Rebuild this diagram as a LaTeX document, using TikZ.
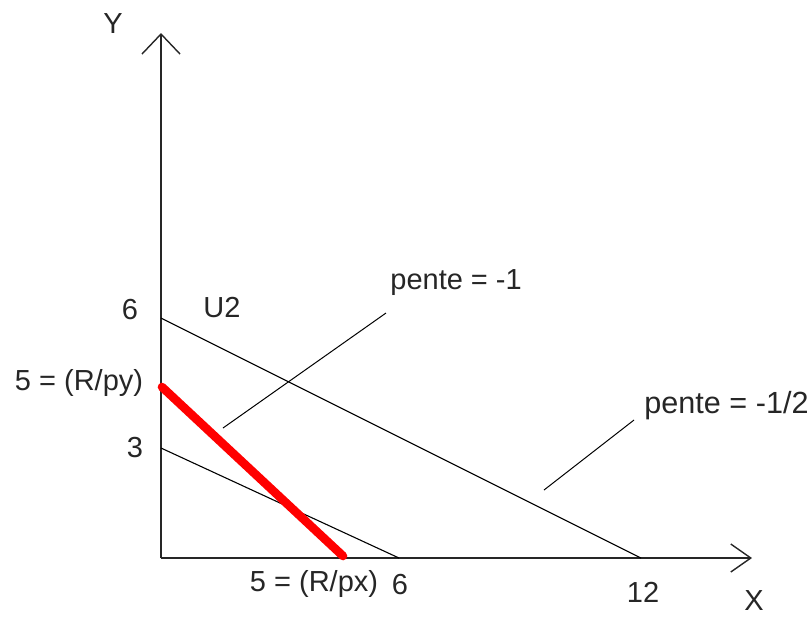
\documentclass[tikz,border=0pt]{standalone}
\usepackage{fontspec}
\setmainfont{Liberation Sans}
\usetikzlibrary{arrows.meta}
\tikzset{
  graf/axis/.style={line width=1pt, draw=black!85},
  graf/ytip/.style={-{Straight Barb[length=10pt, width=19pt, line width=0.7pt]}},
  graf/xtip/.style={-{Straight Barb[length=10pt, width=14pt, line width=0.7pt]}},
  graf/line/.style={line width=0.55pt, draw=black},
  graf/budget/.style={line width=4.3pt, draw=red, line cap=round},
  graf/leader/.style={line width=0.5pt, draw=black},
  graf/label/.style={inner sep=0pt, font=\fontsize{14.5}{17}\selectfont, text=black!85},
}

\begin{document}
\begin{tikzpicture}[x=0.5pt, y=-0.5pt]
  \useasboundingbox (0,0) rectangle (812,617);

  % Axes
  \coordinate (O) at (161,558);
  \coordinate (ytop) at (161,33);
  \coordinate (xend) at (752,558);
  \draw[graf/axis, graf/ytip] (O) -- (ytop);
  \draw[graf/axis, graf/xtip] (O) -- (xend);

  % Droites
  \coordinate (u2a) at (161,318);
  \coordinate (u2b) at (641,558);
  \coordinate (u1a) at (161,448);
  \coordinate (u1b) at (399,558);
  \coordinate (ra) at (162,387);
  \coordinate (rb) at (343,556);
  \draw[graf/line] (u2a) -- (u2b);
  \draw[graf/line] (u1a) -- (u1b);
  \draw[graf/budget] (ra) -- (rb);

  % Traits de rappel
  \coordinate (l1a) at (223,428);
  \coordinate (l1b) at (386,313);
  \coordinate (l2a) at (544,490);
  \coordinate (l2b) at (634,420);
  \draw[graf/leader] (l1a) -- (l1b);
  \draw[graf/leader] (l2a) -- (l2b);

  % Etiquettes
  \node[graf/label] (ylab) at (113,24) {Y};
  \node[graf/label] (xlab) at (754,601) {X};
  \node[graf/label] (y6) at (130,310) {6};
  \node[graf/label] (u2lab) at (222,308) {U2};
  \node[graf/label] (y5) at (79,383) {5 = (R/py)};
  \node[graf/label] (y3) at (135,448) {3};
  \node[graf/label] (x5) at (314,584) {5 = (R/px)};
  \node[graf/label] (x6) at (400,584) {6};
  \node[graf/label] (x12) at (643,592) {12};
  \node[graf/label, anchor=west] (p1) at (390,283) {pente = -1};
  \node[graf/label, anchor=west, font=\fontsize{15.3}{18}\selectfont] (p2) at (644,406) {pente = -1/2};
\end{tikzpicture}
\end{document}
